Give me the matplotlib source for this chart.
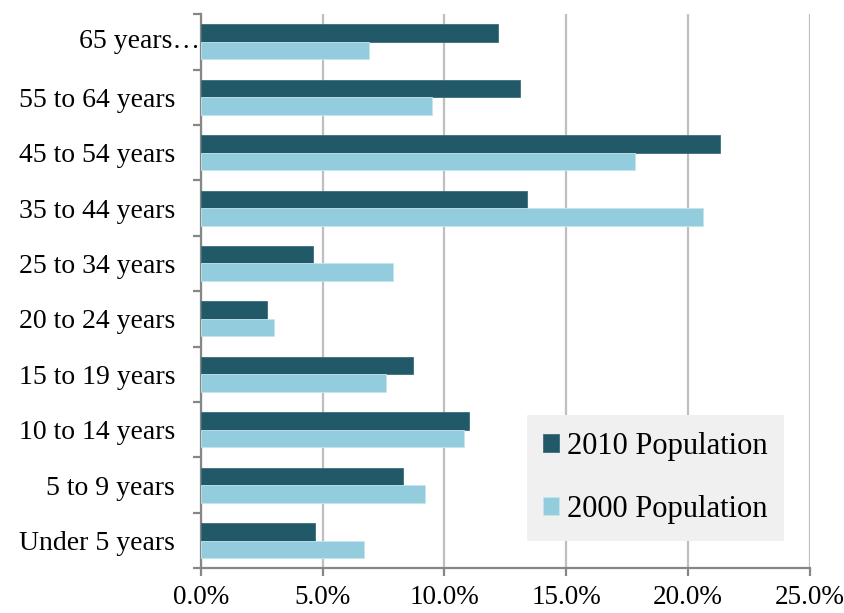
import matplotlib
matplotlib.use("Agg")
import matplotlib.pyplot as plt
import numpy as np
from matplotlib.ticker import FuncFormatter, FixedLocator

# ---------------------------------------------------------------------------
# Data (percent of population by age group)
# ---------------------------------------------------------------------------
age_groups = ["Under 5 years", "5 to 9 years", "10 to 14 years", "15 to 19 years",
              "20 to 24 years", "25 to 34 years", "35 to 44 years", "45 to 54 years",
              "55 to 64 years", "65 years…"]
pop_2010 = [4.7, 8.3, 11.0, 8.7, 2.7, 4.6, 13.4, 21.3, 13.1, 12.2]
pop_2000 = [6.7, 9.2, 10.8, 7.6, 3.0, 7.9, 20.6, 17.8, 9.5, 6.9]
x_ticks = [0, 5, 10, 15, 20, 25]

DARK = "#215968"
LIGHT = "#93CDDD"
GRID = "#BFBFBF"
AXIS = "#868686"

plt.rcParams["font.family"] = ["Liberation Serif", "DejaVu Serif"]

fig = plt.figure(figsize=(8.44, 6.13), dpi=100)
ax = fig.add_axes([0.238, 0.073, 0.7216, 0.904])

y = np.arange(len(age_groups))
h = 0.315
ax.barh(y + h / 2, pop_2010, height=h, color=DARK, edgecolor="#3d6e7b",
        linewidth=0.6, label="2010 Population", zorder=3)
ax.barh(y - h / 2, pop_2000, height=h, color=LIGHT, edgecolor="#c5e4ec",
        linewidth=0.6, label="2000 Population", zorder=3)

ax.set_xlim(0, 25)
ax.set_ylim(-0.5, len(age_groups) - 0.5)

ax.xaxis.set_major_locator(FixedLocator(x_ticks))
ax.xaxis.set_major_formatter(FuncFormatter(lambda v, p: f"{v:.1f}%"))
ax.grid(axis="x", color=GRID, linewidth=1.6, zorder=0)
ax.grid(axis="y", visible=False)

# category labels centred, ticks at category boundaries
# (the last label is cut short in the original, so it sits right at the axis)
ax.set_yticks(y)
ax.set_yticklabels(age_groups[:-1] + [""])
ax.text(-0.04, y[-1], age_groups[-1], ha="right", va="center", fontsize=20)
ax.yaxis.set_minor_locator(FixedLocator(np.arange(-0.5, len(age_groups), 1.0)))
ax.tick_params(axis="y", which="major", length=0, labelsize=20, pad=18.5)
ax.tick_params(axis="y", which="minor", length=6, width=1.6, color=AXIS)
ax.tick_params(axis="x", length=6, width=1.6, color=AXIS, labelsize=19.5, pad=6)

for s in ("top", "right"):
    ax.spines[s].set_visible(False)
for s in ("left", "bottom"):
    ax.spines[s].set_color(AXIS)
    ax.spines[s].set_linewidth(1.6)

leg = ax.legend(loc="lower right", bbox_to_anchor=(0.958, 0.05), fontsize=22,
                frameon=True, fancybox=False, handlelength=0.52, handleheight=0.52,
                handletextpad=0.25, labelspacing=1.1, borderpad=0.55,
                borderaxespad=0)
leg.get_frame().set_facecolor("#F0F0F0")
leg.get_frame().set_edgecolor("none")
leg.get_frame().set_alpha(1)

fig.savefig("out.png", dpi=100)
